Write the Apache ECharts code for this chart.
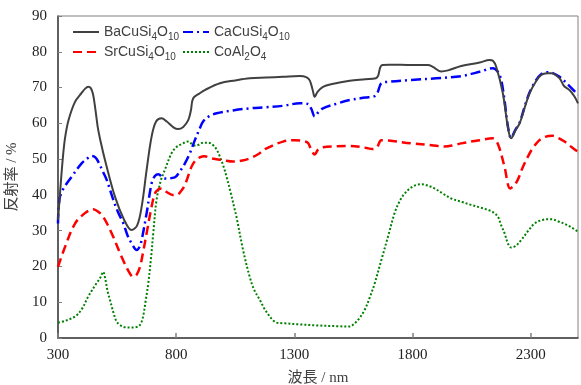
<!DOCTYPE html>
<html><head><meta charset="utf-8">
<script src="https://cdn.jsdelivr.net/npm/echarts@6/dist/echarts.min.js"></script>
<style>html,body{margin:0;padding:0;background:#fff}#c{width:581px;height:385px}</style>
</head><body><div id="c"></div>
<script>
const xTicks = [300, 800, 1300, 1800, 2300];
const seriesNames = ['BaCuSi4O10', 'CaCuSi4O10', 'SrCuSi4O10', 'CoAl2O4'];

const baWl = [300,308,320,330,345,372,400,415,428,438,448,458,468,480,499,541,580,611,635,654,675,696,715,738,760,790,808,830,851,862,872,900,921,985,1050,1111,1180,1252,1323,1350,1365,1378,1386,1398,1421,1460,1534,1600,1645,1655,1663,1672,1700,1800,1865,1886,1921,1950,2006,2084,2126,2140,2154,2182,2203,2217,2235,2253,2275,2295,2320,2344,2370,2387,2422,2440,2464,2485,2500];
const baVal = [33,40,50,56,61,66,68.5,69.7,70.2,69.9,68.2,64,59,55,49.7,39.5,33,30.2,31.5,36.7,47,56.3,60.5,61.4,60.5,58.8,58.4,59,60.9,63.5,67,68.4,69.3,71.2,72,72.6,72.8,73.0,73.2,72.9,72,69.2,67.4,68.8,70.2,71,71.9,72.3,72.6,73.4,75.6,76.3,76.4,76.3,76.3,75.8,74.5,74.8,76.0,77.0,77.7,77.5,75.8,68.4,59.1,55.8,58,60,64.5,68.4,71.5,73.5,74.0,74.0,72.6,70.5,69.3,67.5,65.6];

const caWl = [300,308,330,358,400,430,442,458,470,490,506,534,555,576,595,611,633,645,654,675,696,710,725,740,752,794,815,837,860,879,900,914,940,971,1040,1111,1180,1252,1323,1358,1372,1386,1400,1421,1480,1534,1600,1640,1652,1668,1700,1795,1900,2006,2084,2140,2160,2175,2190,2203,2217,2235,2253,2275,2295,2320,2344,2370,2387,2422,2464,2485,2500];
const caVal = [32,39.5,42.5,45.1,48.8,50.5,50.9,50.5,49.3,46.5,44.2,38.6,35,32.1,28.5,26.5,24.6,25.5,27.4,34.9,43.2,45.3,45.8,45,44.6,44.9,46.5,48.8,52,55.3,58.6,60.5,62,62.8,63.6,64.2,64.5,64.9,65.6,65.4,64,61.9,63,64.2,65.5,66.5,67.2,67.6,68.6,71.2,71.6,72.1,72.6,73.2,74.4,75.4,74.5,72.1,66,59.3,55.9,58.2,60.2,64.8,68.6,71.8,73.7,74.3,74.2,73,70.4,69,67.9];

const srWl = [300,330,372,414,449,470,491,527,569,600,618,632,647,660,675,696,710,725,738,760,785,802,820,837,865,880,900,920,950,999,1040,1080,1111,1150,1182,1252,1302,1340,1358,1372,1386,1400,1421,1480,1534,1600,1630,1650,1668,1700,1795,1880,1936,1980,2006,2084,2140,2155,2168,2189,2213,2228,2245,2265,2288,2310,2337,2360,2393,2420,2443,2470,2500];
const srVal = [19.9,25.5,32.0,34.9,36.0,35.3,33.9,29.3,22.7,18.5,17.1,17.6,19.9,24,29.3,36.7,40.4,41.6,41.8,40.8,40.0,40.0,41,42.8,47.9,49.5,50.5,50.8,50.2,49.7,49.3,49.6,50.2,51.5,53.0,54.9,55.3,55,54.5,52.5,51.3,52.6,53.3,53.6,53.7,53.2,52.8,53.4,55.3,55.2,54.4,53.9,53.5,54,54.4,55.3,55.8,55,53.0,47.9,41.8,42.5,44.2,47.5,50.7,53.2,55.3,56.2,56.5,55.8,54.9,53.5,52];

const coWl = [300,330,372,400,428,460,480,491,500,510,520,535,548,565,583,610,639,650,660,670,682,693,703,717,735,752,780,800,823,851,865,879,895,914,935,956,970,985,1000,1013,1030,1048,1055,1083,1111,1130,1154,1175,1196,1212,1224,1260,1323,1400,1480,1534,1555,1575,1597,1620,1640,1668,1696,1724,1745,1767,1800,1837,1860,1893,1930,1964,2010,2048,2085,2119,2140,2161,2175,2189,2205,2217,2235,2260,2290,2316,2350,2387,2420,2443,2470,2500];
const coVal = [4.3,4.8,6.0,8,11.6,15,17,18.5,16.5,13,10.6,7,4.6,3.5,3.0,2.9,3.2,4,6.0,10,15.3,22,29.3,38.6,44,47.0,51.6,53.3,54.2,54.9,54.3,53.8,54.0,54.6,54.6,53.9,52.8,50.7,48,45.1,40.8,35.8,33.9,24.6,17.1,13.5,10.6,8,6.0,4.8,4.3,4.1,3.8,3.5,3.3,3.2,4.1,5.5,7.8,11.5,15.3,21.8,28.3,34.9,38.2,40.4,42.3,43.0,42.7,41.8,40.3,39.0,38,37.2,36.5,35.8,35.2,33.9,31.5,29.3,26.2,25.3,25.7,27.4,30,32.0,33,33.2,32.5,31.9,31,29.7];

function zip(a, b) { return a.map((x, i) => [x, b[i]]); }
function formula(name) {
  return ('{n|' + name.replace(/(\d+)/g, '}{s|$1}{n|') + '}').replace(/\{n\|\}/g, '');
}

const rich = {
  n: { fontSize: 14, lineHeight: 20, color: '#404040', fontFamily: 'Liberation Sans, Arial, sans-serif' },
  s: { fontSize: 10, lineHeight: 10, verticalAlign: 'bottom', color: '#404040', fontFamily: 'Liberation Sans, Arial, sans-serif' }
};
const legendPos = [[72, 25], [182, 25], [72, 45], [182, 45]];

const styles = [
  { color: '#404040', width: 2, type: 'solid' },
  { color: '#0000ff', width: 2.5, type: [10, 4, 2, 4] },
  { color: '#ff0000', width: 2.5, type: [9, 5] },
  { color: '#008000', width: 2, type: [2, 2] }
];
const dataSets = [zip(baWl, baVal), zip(caWl, caVal), zip(srWl, srVal), zip(coWl, coVal)];

const chart = echarts.init(document.getElementById('c'), null, { renderer: 'canvas' });
chart.setOption({
  animation: false,
  backgroundColor: '#fff',
  grid: { left: 58, right: 3, top: 16, bottom: 47, show: true, borderColor: '#808080', borderWidth: 1, containLabel: false, outerBoundsMode: 'none' },
  legend: seriesNames.map((nm, i) => ({
    data: [nm], left: legendPos[i][0], top: legendPos[i][1], itemWidth: 26, itemHeight: 14, itemGap: 0,
    padding: 0, formatter: formula, textStyle: { rich: rich, color: '#404040' }, selectedMode: false,
    itemStyle: { opacity: 0 }
  })),
  xAxis: {
    type: 'value', min: 300, max: 2500,
    name: '波長 / nm', nameLocation: 'middle', nameGap: 33,
    nameTextStyle: { fontSize: 15, color: '#404040', fontFamily: 'Liberation Serif, Noto Sans CJK JP, serif' },
    axisLine: { show: true, lineStyle: { color: '#404040', width: 1.5 } },
    axisTick: { show: true, inside: true, length: 5, customValues: xTicks, lineStyle: { color: '#808080', width: 1.5 } },
    axisLabel: { customValues: xTicks, margin: 10, fontSize: 15, color: '#222', fontFamily: 'Liberation Serif, serif', formatter: v => String(v) },
    splitLine: { show: false }
  },
  yAxis: {
    type: 'value', min: 0, max: 90, interval: 10,
    name: '反射率 / %', nameLocation: 'middle', nameGap: 38, nameRotate: 90,
    nameTextStyle: { fontSize: 15, color: '#404040', fontFamily: 'Liberation Serif, Noto Sans CJK JP, serif' },
    axisLine: { show: true, lineStyle: { color: '#404040', width: 1.5 } },
    axisTick: { show: true, inside: true, length: 4, lineStyle: { color: '#808080', width: 1 } },
    axisLabel: { margin: 11, fontSize: 15, color: '#222', fontFamily: 'Liberation Serif, serif' },
    splitLine: { show: false }
  },
  series: seriesNames.map((nm, i) => ({
    name: nm, type: 'line', data: dataSets[i], showSymbol: false, symbol: 'none', smooth: 0.35,
    lineStyle: { color: styles[i].color, width: styles[i].width, type: styles[i].type, cap: 'butt' },
    itemStyle: { color: styles[i].color }, z: 10 - i
  }))
});
</script></body></html>
